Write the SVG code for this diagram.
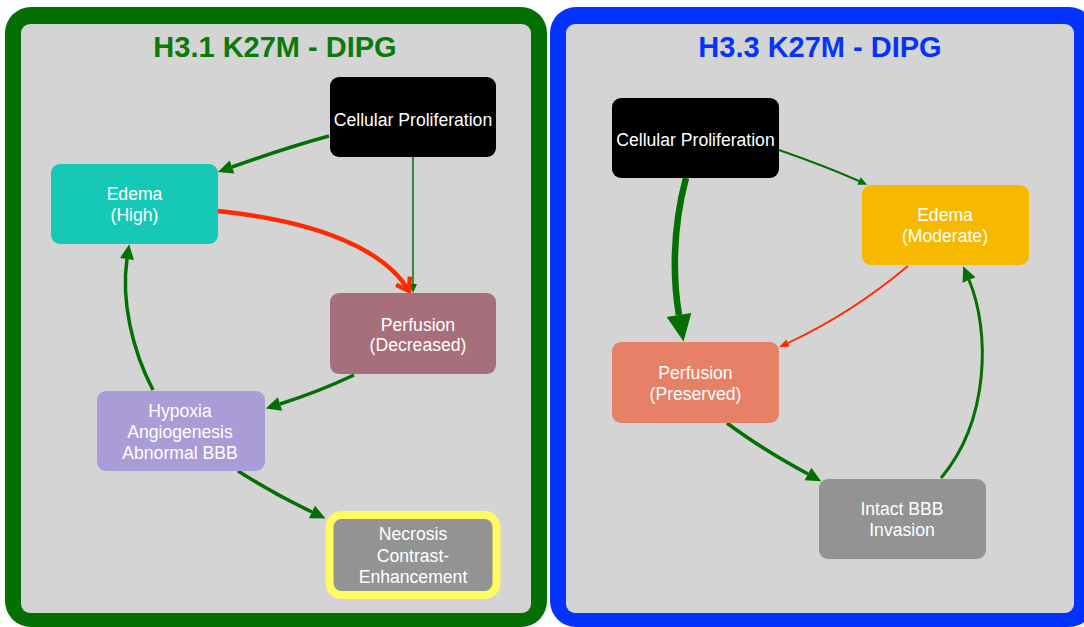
<svg xmlns="http://www.w3.org/2000/svg" width="1084" height="627" viewBox="0 0 1084 627">
<style>
.t{font-family:"Liberation Sans",Arial,Helvetica,sans-serif;font-size:17.6px;fill:#ffffff;text-anchor:middle}
.title{font-family:"Liberation Sans",Arial,Helvetica,sans-serif;font-size:29px;font-weight:bold;text-anchor:middle}
.g{fill:none;stroke:#047004}
.r{fill:none;stroke:#ff2a00}
</style>
<defs>
<marker id="ag" markerUnits="userSpaceOnUse" markerWidth="16" markerHeight="14" refX="0" refY="7" orient="auto" overflow="visible"><path d="M0,0 L15,7 L0,14 Z" fill="#047004"/></marker>
<marker id="agS" markerUnits="userSpaceOnUse" markerWidth="10" markerHeight="8" refX="0" refY="4" orient="auto" overflow="visible"><path d="M0,0 L9,4 L0,8 Z" fill="#047004"/></marker>
<marker id="agL" markerUnits="userSpaceOnUse" markerWidth="28" markerHeight="25" refX="0" refY="12.5" orient="auto" overflow="visible"><path d="M0,0 L27,12.5 L0,25 Z" fill="#047004"/></marker>
<marker id="arS" markerUnits="userSpaceOnUse" markerWidth="10" markerHeight="8" refX="0" refY="4" orient="auto" overflow="visible"><path d="M0,0 L10,4 L0,8 Z" fill="#ff2a00"/></marker>
<marker id="arV" markerUnits="userSpaceOnUse" markerWidth="14" markerHeight="16" refX="12" refY="8" orient="auto" overflow="visible"><path d="M0,0 L12,8 L0,16" fill="none" stroke="#ff2a00" stroke-width="4.5"/></marker>
</defs>

<g id="panel-left">
<rect x="5" y="7" width="542" height="620" rx="26" fill="#047004"/>
<rect x="21" y="24" width="510" height="589" rx="9" fill="#d4d4d4"/>
<text class="title" x="275" y="57" fill="#0a7a0a">H3.1 K27M - DIPG</text>
</g>
<g id="panel-right">
<rect x="550" y="7" width="545" height="620" rx="26" fill="#0433ff"/>
<rect x="566" y="24" width="508" height="589" rx="9" fill="#d4d4d4"/>
<text class="title" x="820" y="57" fill="#0433ff">H3.3 K27M - DIPG</text>
</g>

<g id="connectors">
<path class="g" stroke-width="3.5" d="M329,136 Q 285,148 232,167" marker-end="url(#ag)"/>
<path class="g" stroke-width="1.5" d="M413,157 L413,284" marker-end="url(#agS)"/>
<path class="r" stroke-width="4.5" d="M218,211 C 320,222 385,250 409,291" marker-end="url(#arV)"/>
<path class="g" stroke-width="3.5" d="M354,375 Q 318,392 280,404" marker-end="url(#ag)"/>
<path class="g" stroke-width="3.5" d="M153,390 C 132,350 121,300 127,259" marker-end="url(#ag)"/>
<path class="g" stroke-width="3.5" d="M238,471 Q 276,495 312,512" marker-end="url(#ag)"/>

<path class="g" stroke-width="2" d="M779,150 Q 825,166 859,181" marker-end="url(#agS)"/>
<path class="g" stroke-width="6.5" d="M686,178 C 672,230 673,280 679,315" marker-end="url(#agL)"/>
<path class="r" stroke-width="1.8" d="M908,266 Q 852,313 788,343" marker-end="url(#arS)"/>
<path class="g" stroke-width="3.5" d="M727,423 Q 760,448 808,474" marker-end="url(#ag)"/>
<path class="g" stroke-width="3" d="M941,478 C 990,420 990,330 969,280" marker-end="url(#ag)"/>
</g>

<g id="node-cp-left">
<rect x="330" y="77" width="166" height="80" rx="9" fill="#000000"/>
<text class="t" x="413" y="126">Cellular Proliferation</text>
</g>
<g id="node-edema-high">
<rect x="51" y="164" width="167" height="80" rx="9" fill="#15c9b6"/>
<text class="t" x="134.5" y="200">Edema</text>
<text class="t" x="134.5" y="221">(High)</text>
</g>
<g id="node-perfusion-decreased">
<rect x="330" y="293" width="166" height="81" rx="9" fill="#a76e7b"/>
<text class="t" x="418" y="331">Perfusion</text>
<text class="t" x="418" y="351">(Decreased)</text>
</g>
<g id="node-hypoxia">
<rect x="97" y="391" width="168" height="80" rx="9" fill="#aa9cd6"/>
<text class="t" x="180" y="417">Hypoxia</text>
<text class="t" x="180" y="438">Angiogenesis</text>
<text class="t" x="180" y="459">Abnormal BBB</text>
</g>
<g id="node-necrosis">
<rect x="329.5" y="515" width="167" height="80" rx="12" fill="#939393" stroke="#fffb62" stroke-width="8"/>
<text class="t" x="413" y="540">Necrosis</text>
<text class="t" x="413" y="561.5">Contrast-</text>
<text class="t" x="413" y="582.5">Enhancement</text>
</g>

<g id="node-cp-right">
<rect x="612" y="98" width="167" height="80" rx="9" fill="#000000"/>
<text class="t" x="695.5" y="146">Cellular Proliferation</text>
</g>
<g id="node-edema-moderate">
<rect x="862" y="185" width="167" height="80" rx="9" fill="#f6b900"/>
<text class="t" x="945" y="221">Edema</text>
<text class="t" x="945" y="242">(Moderate)</text>
</g>
<g id="node-perfusion-preserved">
<rect x="612" y="342" width="167" height="81" rx="9" fill="#e68066"/>
<text class="t" x="695.5" y="379">Perfusion</text>
<text class="t" x="695.5" y="400">(Preserved)</text>
</g>
<g id="node-intact-bbb">
<rect x="819" y="479" width="167" height="80" rx="9" fill="#939393"/>
<text class="t" x="902" y="515">Intact BBB</text>
<text class="t" x="902" y="536">Invasion</text>
</g>
</svg>
